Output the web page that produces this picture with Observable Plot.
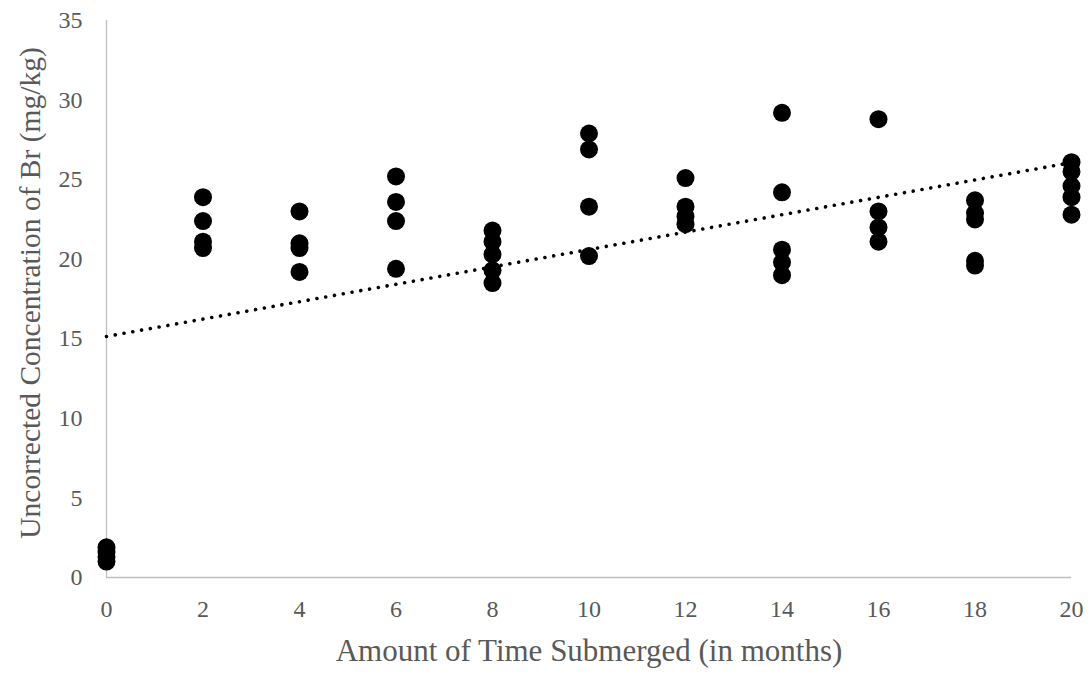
<!DOCTYPE html>
<html>
<head>
<meta charset="utf-8">
<script src="https://cdn.jsdelivr.net/npm/d3@7"></script>
<script src="https://cdn.jsdelivr.net/npm/@observablehq/plot@0.6"></script>
<style>
  html, body { margin: 0; padding: 0; background: #fff; }
  svg { font-family: "Liberation Serif", "Times New Roman", serif; }
</style>
</head>
<body>
<div id="chart"></div>
<script>
// Months submerged and measured uncorrected Br concentration (mg/kg)
const months = [
  0, 0, 0, 0,
  2, 2, 2, 2,
  4, 4, 4, 4,
  6, 6, 6, 6,
  8, 8, 8, 8, 8,
  10, 10, 10, 10,
  12, 12, 12, 12,
  14, 14, 14, 14, 14,
  16, 16, 16, 16,
  18, 18, 18, 18, 18,
  20, 20, 20, 20, 20
];
const concentration = [
  1.0, 1.3, 1.6, 1.9,
  23.9, 22.4, 21.1, 20.7,
  23.0, 21.0, 20.7, 19.2,
  25.2, 23.6, 22.4, 19.4,
  21.8, 21.1, 20.3, 19.3, 18.5,
  27.9, 26.9, 23.3, 20.2,
  25.1, 23.3, 22.7, 22.2,
  29.2, 24.2, 20.6, 19.8, 19.0,
  28.8, 23.0, 22.0, 21.1,
  23.7, 22.9, 22.5, 19.9, 19.6,
  26.1, 25.5, 24.6, 23.9, 22.8
];
const xTicks = [0, 2, 4, 6, 8, 10, 12, 14, 16, 18, 20];
const yTicks = [0, 5, 10, 15, 20, 25, 30, 35];
const xTitle = "Amount of Time Submerged (in months)";
const yTitle = "Uncorrected Concentration of Br (mg/kg)";

const data = months.map((m, i) => ({month: m, value: concentration[i]}));

const gray = "#595959";
const axisGray = "#bfbfbf";

const chart = Plot.plot({
  width: 1088,
  height: 673,
  marginLeft: 106,
  marginRight: 17,
  marginTop: 20,
  marginBottom: 96,
  style: {fontFamily: '"Liberation Serif", "Times New Roman", serif', background: "#fff"},
  x: {domain: [0, 20], ticks: xTicks},
  y: {domain: [0, 35], ticks: yTicks},
  marks: [
    Plot.ruleX([0], {stroke: axisGray, strokeWidth: 1.3}),
    Plot.ruleY([0], {stroke: axisGray, strokeWidth: 1.3}),
    Plot.axisX({ticks: xTicks, tickSize: 0, tickPadding: 22, fontSize: 24, color: gray, label: null}),
    Plot.axisY({ticks: yTicks, tickSize: 0, tickPadding: 24, fontSize: 24, color: gray, label: null}),
    Plot.linearRegressionY(data, {x: "month", y: "value", ci: 0, stroke: "#000", strokeWidth: 3.6, strokeLinecap: "round", strokeDasharray: "0.01,8.9"}),
    Plot.dot(data, {x: "month", y: "value", r: 9, fill: "#000", stroke: "none"}),
    Plot.text([xTitle], {frameAnchor: "bottom", dy: 83, fontSize: 31, fill: gray}),
    Plot.text([yTitle], {frameAnchor: "left", textAnchor: "middle", rotate: -90, dx: -76, dy: -6, fontSize: 29.5, fill: gray})
  ]
});
document.getElementById("chart").appendChild(chart);
</script>
</body>
</html>
